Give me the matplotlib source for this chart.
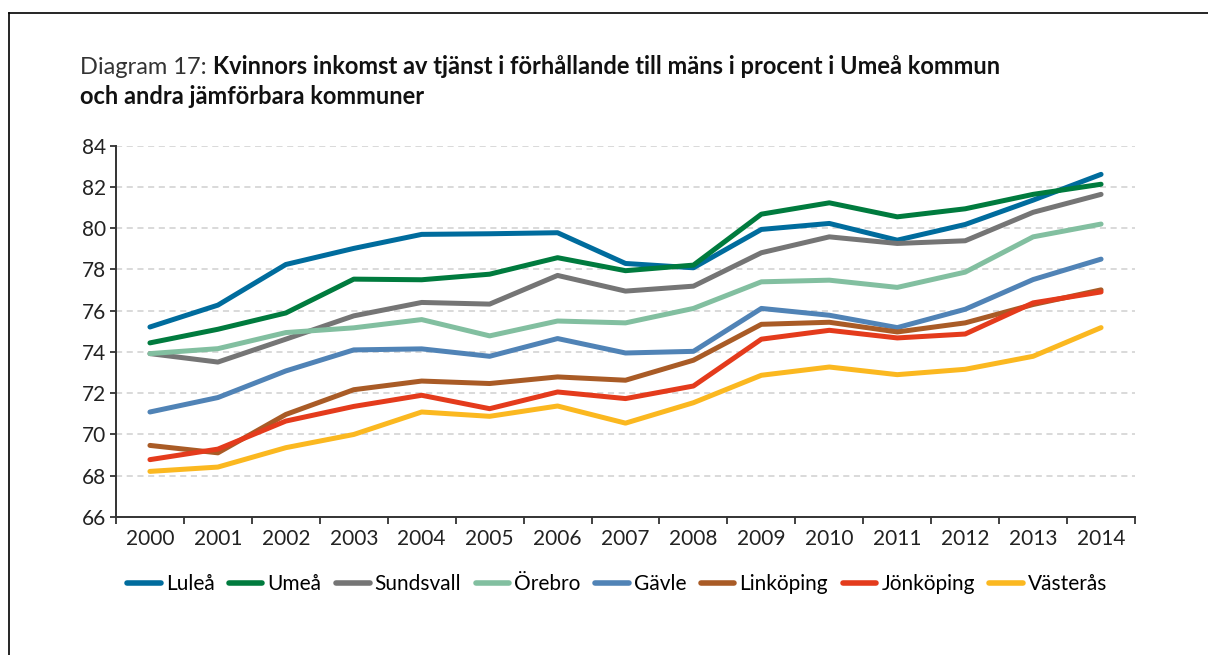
import matplotlib
matplotlib.use("Agg")
import matplotlib.pyplot as plt
from matplotlib.lines import Line2D

plt.rcParams["font.family"] = ["Lato", "DejaVu Sans"]

years = [str(y) for y in range(2000, 2015)]

lulea = [75.21, 76.27, 78.24, 79.02, 79.70, 79.73, 79.78, 78.29, 78.08, 79.94, 80.23, 79.42, 80.18, 81.36, 82.61]
umea = [74.44, 75.10, 75.89, 77.53, 77.50, 77.77, 78.57, 77.94, 78.21, 80.68, 81.23, 80.55, 80.94, 81.64, 82.13]
sundsvall = [73.92, 73.51, 74.62, 75.75, 76.40, 76.32, 77.71, 76.95, 77.19, 78.81, 79.58, 79.26, 79.39, 80.77, 81.64]
orebro = [73.92, 74.16, 74.94, 75.17, 75.57, 74.78, 75.50, 75.41, 76.11, 77.40, 77.48, 77.13, 77.87, 79.58, 80.20]
gavle = [71.09, 71.79, 73.08, 74.10, 74.15, 73.79, 74.65, 73.95, 74.03, 76.11, 75.78, 75.18, 76.07, 77.51, 78.50]
linkoping = [69.47, 69.11, 70.97, 72.17, 72.59, 72.47, 72.79, 72.63, 73.60, 75.34, 75.44, 74.97, 75.41, 76.30, 77.01]
jonkoping = [68.78, 69.29, 70.65, 71.36, 71.90, 71.25, 72.06, 71.74, 72.35, 74.62, 75.05, 74.68, 74.87, 76.38, 76.91]
vasteras = [68.21, 68.42, 69.36, 70.00, 71.09, 70.88, 71.38, 70.55, 71.54, 72.87, 73.27, 72.90, 73.16, 73.79, 75.18]

names = ["Luleå", "Umeå", "Sundsvall", "Örebro", "Gävle", "Linköping", "Jönköping", "Västerås"]
series = [lulea, umea, sundsvall, orebro, gavle, linkoping, jonkoping, vasteras]
colors = ["#006c9d", "#007b3e", "#757575", "#82bfa0", "#5083b6", "#a95b26", "#e43b1c", "#fbb820"]

fig = plt.figure(figsize=(12.08, 6.55), dpi=100)
ax = fig.add_axes([0.096, 0.2107, 0.8436, 0.5669])

x = list(range(len(years)))
for vals, name, c in zip(series, names, colors):
    ax.plot(x, vals, color=c, lw=3.6, solid_capstyle="round", label=name)

ax.set_ylim(66, 84)
ax.set_yticks(range(66, 85, 2))
ax.set_xlim(-0.5, len(years) - 0.5)
ax.set_xticks([i - 0.5 for i in range(len(years) + 1)])
ax.set_xticklabels([])
ax.set_xticks(x, minor=True)
ax.set_xticklabels(years, minor=True)
ax.tick_params(axis="x", which="minor", length=0, pad=9, labelsize=15, colors="#222222")
ax.tick_params(axis="x", which="major", length=5, width=1.3, color="#333333", direction="out")
ax.tick_params(axis="y", length=4, width=1.3, color="#333333", labelsize=15, labelcolor="#222222", pad=3)

ax.grid(axis="y", color="#d0d0d0", lw=1.1, linestyle=(0, (4, 3)))
ax.set_axisbelow(True)
for s in ["top", "right"]:
    ax.spines[s].set_visible(False)
for s in ["left", "bottom"]:
    ax.spines[s].set_color("#333333")
    ax.spines[s].set_linewidth(1.4)

leg = fig.legend(loc="center", bbox_to_anchor=(0.511, 1 - 584 / 655), ncol=8, frameon=False,
                 fontsize=15, handlelength=1.6, handletextpad=0.25, columnspacing=0.7,
                 borderaxespad=0)
for h in leg.get_lines():
    h.set_linewidth(4)

# title, light prefix + bold text
t1 = fig.text(80 / 1208, 1 - 74 / 655, "Diagram 17: ", fontsize=17, color="#333333")
fig.canvas.draw()
bb = t1.get_window_extent()
fig.text(bb.x1 / fig.bbox.width, 1 - 74 / 655,
         "Kvinnors inkomst av tjänst i förhållande till mäns i procent i Umeå kommun",
         fontsize=17, fontweight="bold", color="#111111")
fig.text(80 / 1208, 1 - 104 / 655, "och andra jämförbara kommuner",
         fontsize=17, fontweight="bold", color="#111111")

# frame (partly cut off at right and bottom)
fx, fy = 8.5 / 1208, 1 - 12.5 / 655
fig.add_artist(Line2D([fx, fx], [0, fy], color="black", lw=1.2))
fig.add_artist(Line2D([fx, 1], [fy, fy], color="black", lw=1.2))

fig.savefig("out.png", dpi=100)
